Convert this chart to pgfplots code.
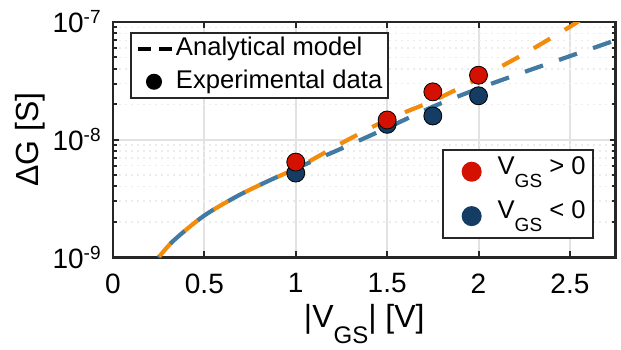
\documentclass[border=0pt]{standalone}
\usepackage{pgfplots}
\pgfplotsset{compat=1.18}
\usepackage{fontspec}
\setmainfont{Liberation Sans}
\definecolor{myred}{RGB}{212,16,0}
\definecolor{mynavy}{RGB}{21,60,99}
\definecolor{mysteel}{RGB}{66,122,161}
\definecolor{myorange}{RGB}{243,139,12}
\definecolor{axcol}{RGB}{38,38,38}
\definecolor{gridcol}{RGB}{226,226,226}
\definecolor{mgridcol}{RGB}{236,236,236}
\newcommand{\ytl}[1]{10\raisebox{4.5pt}{\fontsize{9.5}{9.5}\selectfont -#1}}
\newcommand{\legsub}{\raisebox{-6.5pt}{\fontsize{9.5}{9.5}\selectfont GS}}
\begin{document}
\begin{tikzpicture}
\useasboundingbox (-56.5pt,-45.85pt) rectangle (254pt,128.65pt);
\begin{axis}[
  scale only axis, width=251.3pt, height=117.65pt,
  xmin=0, xmax=2.75, ymin=1e-9, ymax=1e-7, ymode=log,
  xtick={0,0.5,1,1.5,2,2.5},
  xticklabels={0,0.5,1,1.5,2,2.5},
  ytick={1e-9,1e-8,1e-7},
  yticklabels={\ytl{9},\ytl{8},\ytl{7}},
  minor ytick={2e-9,3e-9,4e-9,5e-9,6e-9,7e-9,8e-9,9e-9,2e-8,3e-8,4e-8,5e-8,6e-8,7e-8,8e-8,9e-8},
  minor xtick={},
  xmajorgrids, ymajorgrids, yminorgrids,
  major grid style={gridcol, line width=1pt},
  minor grid style={mgridcol, line width=0.7pt, dash pattern=on 1pt off 2pt},
  tick align=inside,
  major tick length=3pt, minor tick length=2pt,
  every tick/.style={axcol, line width=1pt},
  axis line style={axcol, line width=1.3pt},
  tick label style={font=\fontsize{14}{14}\selectfont, inner sep=0pt, text=black},
  xticklabel shift=8pt,
  yticklabel shift=6pt,
  xlabel={|V\raisebox{-8pt}{\fontsize{12}{12}\selectfont GS}| [V]},
  xlabel style={font=\fontsize{16}{16}\selectfont, at={(axis description cs:0.5,0)}, anchor=base, yshift=-35pt, inner sep=0pt},
  ylabel={ΔG [S]},
  ylabel style={font=\fontsize{16}{16}\selectfont, at={(axis description cs:-0.1651,0.5)}, anchor=center, inner sep=0pt},
  reverse legend,
  legend style={at={(axis description cs:1,0)}, anchor=south east, xshift=-11pt, yshift=9pt,
    draw=axcol, line width=1pt, fill=white, inner sep=0pt, row sep=0pt, column sep=0pt,
    nodes={inner sep=0pt, text depth=, font=\fontsize{12.8}{12.8}\selectfont}, cells={anchor=west}},
]
\addplot[forget plot, myorange, line width=2.1pt, dash pattern=on 9.5pt off 8.5pt, smooth] coordinates {
(0.25,1.0e-9) (0.33,1.380e-9) (0.494,2.234e-9) (0.676,3.289e-9) (0.84,4.385e-9) (1.0,5.675e-9)
(1.125,7.24e-9) (1.25,9.33e-9) (1.5,1.479e-8) (1.75,2.138e-8) (2.0,3.311e-8) (2.25,5.37e-8) (2.5,9.12e-8) (2.55,1.023e-7)};
\addplot[forget plot, mysteel, line width=2.1pt, dash pattern=on 9.5pt off 8.5pt, dash phase=9pt, smooth] coordinates {
(0.25,1.0e-9) (0.33,1.380e-9) (0.494,2.234e-9) (0.676,3.289e-9) (0.84,4.385e-9) (1.0,5.675e-9)
(1.125,6.92e-9) (1.25,8.41e-9) (1.5,1.259e-8) (1.75,1.905e-8) (2.0,2.723e-8) (2.25,3.758e-8) (2.5,5.129e-8) (2.75,6.998e-8)};
\addplot[only marks, mark=*, mark size=4.5pt, mark options={draw=none, fill=mynavy},
  legend image code/.code={\path[draw=none, fill=none] (0pt,-11.1pt) rectangle (27.5pt,11.1pt); \fill[mynavy] (14.5pt,0pt) circle (4.5pt);}]
  coordinates {(1,5.2e-9) (1.5,1.35e-8) (1.75,1.59e-8) (2,2.36e-8)};
\addlegendentry{V\legsub{} < 0\hspace*{3.5pt}}
\addplot[only marks, mark=*, mark size=4.5pt, mark options={draw=none, fill=myred},
  legend image code/.code={\path[draw=none, fill=none] (0pt,-11.1pt) rectangle (27.5pt,11.1pt); \fill[myred] (14.5pt,0pt) circle (4.5pt);}]
  coordinates {(1,6.45e-9) (1.5,1.47e-8) (1.75,2.55e-8) (2,3.53e-8)};
\addlegendentry{V\legsub{} > 0\hspace*{3.5pt}}
\end{axis}
\begin{axis}[
  scale only axis, width=251.3pt, height=117.65pt,
  xmin=0, xmax=2.75, ymin=1e-9, ymax=1e-7, ymode=log,
  hide axis,
  legend style={at={(axis description cs:0,1)}, anchor=north west, xshift=8.5pt, yshift=-5pt,
    draw=axcol, line width=1pt, fill=white, inner sep=0pt, row sep=0pt, column sep=0pt,
    nodes={inner sep=0pt, text depth=, font=\fontsize{12.8}{12.8}\selectfont}, cells={anchor=west}},
]
\addlegendimage{legend image code/.code={\path[draw=none, fill=none] (0pt,-8.125pt) rectangle (22.5pt,8.125pt); \draw[black, line width=2pt, dash pattern=on 6.5pt off 4pt] (3.5pt,0pt) -- (20.5pt,0pt);}}
\addlegendentry{Analytical model}
\addlegendimage{legend image code/.code={\path[draw=none, fill=none] (0pt,-8.125pt) rectangle (22.5pt,8.125pt); \fill[black] (11.5pt,0pt) circle (3.5pt);}}
\addlegendentry{Experimental data\hspace*{3pt}}
\end{axis}
\end{tikzpicture}
\end{document}
